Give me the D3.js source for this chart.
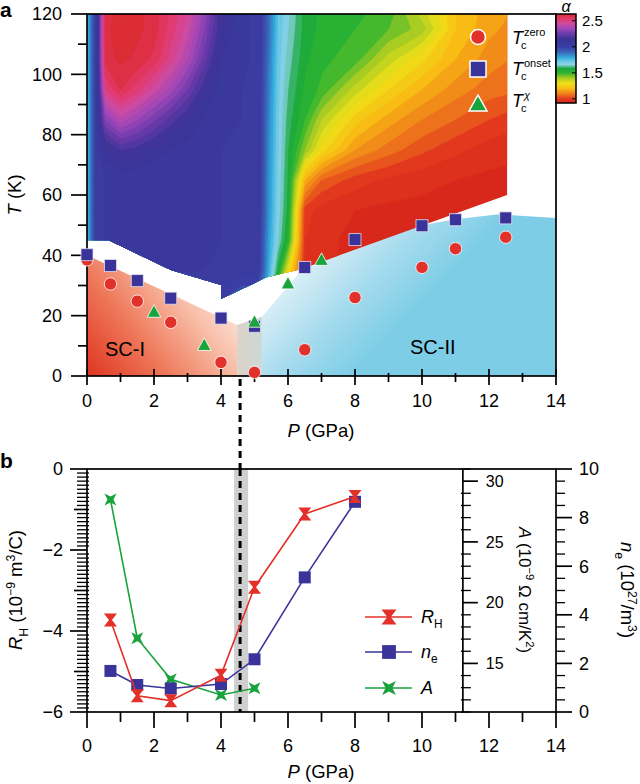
<!DOCTYPE html>
<html>
<head>
<meta charset="utf-8">
<script src="https://cdn.jsdelivr.net/npm/d3@7"></script>
<style>
  body { margin: 0; background: #fff; }
</style>
</head>
<body>
<script>
// ---- data: alpha map (rows = T ascending, columns = P) ----
const pCols = [0, 0.3, 0.55, 1, 1.5, 2, 2.5, 3, 3.5, 4, 4.6, 5.1, 5.4, 5.7, 6.0, 6.5, 7, 8, 9, 10, 11, 12, 12.6];
const tRows = [25, 35, 45, 55, 65, 75, 85, 95, 105, 115, 120];
const alphaGrid = [
  [1.75, 2.05, 2.05, 2.05, 2.05, 2.05, 2.05, 2.05, 2.05, 1.98, 1.92, 1.92, 1.70, 1.40, 1.12, 0.98, 0.95, 0.93, 0.93, 0.93, 0.93, 0.93, 0.93],
  [1.75, 2.05, 2.06, 2.06, 2.06, 2.06, 2.06, 2.06, 2.06, 2.05, 2.04, 2.03, 1.80, 1.56, 1.30, 0.98, 0.95, 0.93, 0.93, 0.93, 0.93, 0.93, 0.93],
  [1.75, 2.05, 2.06, 2.06, 2.06, 2.06, 2.06, 2.06, 2.06, 2.06, 2.05, 2.04, 1.82, 1.66, 1.52, 0.98, 0.95, 0.93, 0.93, 0.93, 0.93, 0.93, 0.93],
  [1.75, 2.05, 2.06, 2.06, 2.06, 2.06, 2.06, 2.06, 2.06, 2.06, 2.05, 2.05, 1.84, 1.68, 1.56, 1.00, 0.96, 0.94, 0.93, 0.93, 0.93, 0.93, 0.93],
  [1.75, 2.05, 2.06, 2.07, 2.07, 2.07, 2.07, 2.07, 2.06, 2.06, 2.05, 2.05, 1.84, 1.69, 1.57, 1.18, 1.06, 1.00, 0.97, 0.95, 0.94, 0.93, 0.93],
  [1.75, 2.05, 2.12, 2.18, 2.16, 2.12, 2.10, 2.08, 2.07, 2.06, 2.05, 2.05, 1.85, 1.70, 1.58, 1.42, 1.28, 1.14, 1.08, 1.03, 0.99, 0.96, 0.95],
  [1.75, 2.05, 2.30, 2.40, 2.34, 2.27, 2.20, 2.14, 2.10, 2.07, 2.06, 2.05, 1.86, 1.70, 1.60, 1.50, 1.38, 1.24, 1.16, 1.10, 1.06, 1.02, 1.00],
  [1.75, 2.05, 2.50, 2.58, 2.52, 2.44, 2.36, 2.26, 2.15, 2.08, 2.06, 2.05, 1.87, 1.71, 1.62, 1.53, 1.49, 1.36, 1.26, 1.18, 1.12, 1.08, 1.07],
  [1.75, 2.05, 2.60, 2.63, 2.61, 2.57, 2.48, 2.38, 2.24, 2.10, 2.07, 2.05, 1.88, 1.72, 1.64, 1.55, 1.51, 1.48, 1.36, 1.27, 1.18, 1.12, 1.10],
  [1.75, 2.05, 2.61, 2.64, 2.63, 2.60, 2.52, 2.44, 2.30, 2.14, 2.07, 2.05, 1.90, 1.73, 1.66, 1.56, 1.53, 1.50, 1.46, 1.40, 1.22, 1.15, 1.13],
  [1.75, 2.05, 2.60, 2.63, 2.63, 2.60, 2.53, 2.46, 2.32, 2.15, 2.07, 2.05, 1.90, 1.73, 1.67, 1.56, 1.53, 1.51, 1.48, 1.36, 1.22, 1.16, 1.14]
];
// outline of the measured map and of the SC domes, as [P, T]
const mapEdge = [[0, 120], [12.54, 120], [12.54, 60], [6.4, 35.5], [5.36, 32.7], [4, 25.5], [4, 30.2], [2.5, 35.1], [0.65, 45], [0, 45]];
const sc1Edge = [[0, 0], [0, 40], [4.48, 16.9], [4.48, 0]];
const gapEdge = [[4.48, 0], [4.48, 16.9], [5.22, 19.6], [5.22, 0]];
const sc2Edge = [[5.22, 0], [5.22, 19.6], [6.4, 35], [8, 43], [10, 50], [11, 52], [12.3, 53.6], [14, 52.4], [14, 0]];

// colour bar
const alphaStops = [0.92, 1.0, 1.1, 1.2, 1.3, 1.4, 1.5, 1.58, 1.66, 1.72, 1.8, 1.9, 2.0, 2.15, 2.25, 2.35, 2.45, 2.53, 2.63];
const colorStops = ["#d8281c", "#e2391e", "#f0801a", "#f8bc14", "#f0e018", "#a8cc22", "#2cb430", "#1aa83c", "#8cd4e6", "#6cc8e6", "#30a8dc", "#3b64b8", "#3a3ea4", "#3c3396", "#6a3aaa", "#a048b8", "#d04aa0", "#e23a6e", "#dc2c34"];
const alphaTicks = [1, 1.5, 2, 2.5];

// Tc points
const tcZeroP = [0, 0.7, 1.5, 2.5, 4, 5, 6.5, 8, 10, 11, 12.5];
const tcZeroT = [38.5, 30.5, 24.8, 17.8, 4.5, 1.2, 8.7, 26, 36, 42.2, 46];
const tcOnsetP = [0, 0.7, 1.5, 2.5, 4, 5, 6.5, 8, 10, 11, 12.5];
const tcOnsetT = [40.2, 36.6, 31.6, 25.8, 19.2, 16.5, 36, 45.2, 49.8, 51.8, 52.4];
const tcChiP = [2, 3.5, 5, 6, 7];
const tcChiT = [21.3, 10.3, 18, 30.7, 38.5];

// panel b
const pB = [0.7, 1.5, 2.5, 4, 5, 6.5, 8];
const rhVals = [-3.73, -5.6, -5.72, -5.09, -2.92, -1.11, -0.68];
const neVals = [1.69, 1.11, 0.97, 1.15, 2.17, 5.54, 8.65];
const pA = [0.7, 1.5, 2.5, 4, 5];
const aVals = [28.5, 17.07, 13.69, 12.4, 12.95];
const pBoundary = 4.57;
const pBand = [4.39, 4.81];
const pAxisA = 11.22;

const font = '"Liberation Sans", Arial, Helvetica, sans-serif';
const red = "#e2302a", blue = "#3a3399", green = "#19a33c";

const svg = d3.select("body").append("svg")
    .attr("width", 640).attr("height", 784)
    .style("font-family", font);

const x = d3.scaleLinear().domain([0, 14]).range([87, 556]);
const yT = d3.scaleLinear().domain([0, 120]).range([376, 14]);
const yR = d3.scaleLinear().domain([-6, 0]).range([712, 469]);
const yA = d3.scaleLinear().domain([11, 31]).range([712, 469]);
const yN = d3.scaleLinear().domain([0, 10]).range([712, 469]);
const yC = d3.scaleLinear().domain([0.92, 2.63]).range([103, 14]);
const color = d3.scaleLinear().domain(alphaStops).range(colorStops).clamp(true);

const defs = svg.append("defs");
const edgePath = d3.line().x(d => x(d[0])).y(d => yT(d[1]));

// rich text with sub/superscripts
function rich(sel, parts, size) {
    let off = 0;
    parts.forEach(p => {
        const target = p.sup ? -0.4 * size : p.sub ? 0.3 * size : 0;
        const ts = sel.append("tspan")
            .attr("dy", (target - off).toFixed(2))
            .attr("font-size", (p.sub || p.sup) ? size * 0.66 : size)
            .attr("font-style", p.it ? "italic" : null)
            .text(p.t);
        if (p.x != null) ts.attr("x", p.x);
        off = target;
    });
    return sel;
}

function grad(id, x1, y1, x2, y2, stops) {
    const g = defs.append("linearGradient").attr("id", id)
        .attr("gradientUnits", "userSpaceOnUse")
        .attr("x1", x1).attr("y1", y1).attr("x2", x2).attr("y2", y2);
    stops.forEach(s => g.append("stop").attr("offset", s[0]).attr("stop-color", s[1]));
}

// ---------------- panel a ----------------
grad("sc1", x(0), yT(0), x(3.9), yT(33), [[0, "#df3520"], [0.4, "#ef7a5c"], [0.75, "#f8c0aa"], [1, "#fde8de"]]);
grad("sc2", x(6), yT(36), x(8.6), yT(8), [[0, "#e4f3f8"], [0.55, "#a6dbee"], [1, "#7dcde6"]]);
grad("gap", x(4.48), 0, x(5.22), 0, [[0, "#ddd3c8"], [1, "#cbd8d6"]]);

svg.append("path").attr("d", edgePath(sc1Edge) + "Z").attr("fill", "url(#sc1)");
svg.append("path").attr("d", edgePath(sc2Edge) + "Z").attr("fill", "url(#sc2)");
svg.append("path").attr("d", edgePath(gapEdge) + "Z").attr("fill", "url(#gap)");

// contour map
defs.append("clipPath").attr("id", "mapClip")
    .append("path").attr("d", edgePath(mapEdge) + "Z");

const pIdx = d3.scaleLinear().domain(pCols.map((d, i) => i + 0.5)).range(pCols).clamp(true);
const tIdx = d3.scaleLinear().domain(tRows.map((d, i) => i + 0.5)).range(tRows).clamp(true);
const gridPath = d3.geoPath(d3.geoTransform({
    point(px, py) { this.stream.point(x(pIdx(px)), yT(tIdx(py))); }
}));

const thresholds = d3.range(0.90, 2.68, 0.04);
const contours = d3.contours()
    .size([pCols.length, tRows.length])
    .thresholds(thresholds)(alphaGrid.flat());

svg.append("g").attr("clip-path", "url(#mapClip)")
    .selectAll("path").data(contours).join("path")
    .attr("d", gridPath)
    .attr("fill", d => color(d.value + 0.02))
    .attr("stroke", d => color(d.value + 0.02))
    .attr("stroke-width", 0.6);

// frame + ticks
const axA = svg.append("g").attr("stroke", "#000").attr("stroke-width", 1.7);
axA.append("rect").attr("x", x(0)).attr("y", yT(120))
    .attr("width", x(14) - x(0)).attr("height", yT(0) - yT(120)).attr("fill", "none");
axA.selectAll(".ty").data(d3.range(0, 121, 10)).join("line")
    .attr("x1", d => x(0) - (d % 20 ? 9 : 16)).attr("x2", x(0))
    .attr("y1", d => yT(d)).attr("y2", d => yT(d));
axA.selectAll(".tx").data(d3.range(0, 15)).join("line")
    .attr("x1", d => x(d)).attr("x2", d => x(d))
    .attr("y1", d => yT(0) - (d % 2 ? 3 : 7)).attr("y2", d => yT(0) + (d % 2 ? 6 : 9));

svg.append("g").selectAll("text").data(d3.range(0, 121, 20)).join("text")
    .attr("x", x(0) - 25).attr("y", d => yT(d)).attr("dy", "0.36em")
    .attr("text-anchor", "end").attr("font-size", 18).text(d => d);
svg.append("g").selectAll("text").data(d3.range(0, 15, 2)).join("text")
    .attr("x", d => x(d)).attr("y", yT(0) + 31)
    .attr("text-anchor", "middle").attr("font-size", 18).text(d => d);

rich(svg.append("text").attr("x", 321).attr("y", 437).attr("text-anchor", "middle"),
    [{ t: "P", it: true }, { t: " (GPa)" }], 18.5);
rich(svg.append("text").attr("transform", "translate(21,195) rotate(-90)").attr("text-anchor", "middle"),
    [{ t: "T", it: true }, { t: " (K)" }], 18.5);

svg.append("text").attr("x", 105).attr("y", 356).attr("font-size", 20).text("SC-I");
svg.append("text").attr("x", 410).attr("y", 354).attr("font-size", 20).text("SC-II");
svg.append("text").attr("x", 0).attr("y", 17).attr("font-size", 21).attr("font-weight", "bold").text("a");

// boundary line
svg.append("line")
    .attr("x1", x(pBoundary)).attr("x2", x(pBoundary)).attr("y1", 379).attr("y2", yR(-6))
    .attr("stroke", "#000").attr("stroke-width", 3).attr("stroke-dasharray", "7,5");

// Tc markers
svg.append("g").selectAll("circle").data(tcZeroP).join("circle")
    .attr("cx", d => x(d)).attr("cy", (d, i) => yT(tcZeroT[i])).attr("r", 6.2)
    .attr("fill", red).attr("stroke", "#fff").attr("stroke-width", 0.8);
svg.append("g").selectAll("rect").data(tcOnsetP).join("rect")
    .attr("x", d => x(d) - 6).attr("y", (d, i) => yT(tcOnsetT[i]) - 6)
    .attr("width", 12).attr("height", 12)
    .attr("fill", blue).attr("stroke", "#dde").attr("stroke-width", 0.8);
svg.append("g").selectAll("path").data(tcChiP).join("path")
    .attr("transform", (d, i) => `translate(${x(d)},${yT(tcChiT[i])})`)
    .attr("d", "M0,-7L6.8,5.5L-6.8,5.5Z")
    .attr("fill", green).attr("stroke", "#fff").attr("stroke-width", 0.8);

// legend (panel a)
const legA = svg.append("g").attr("transform", "translate(478,0)");
legA.append("circle").attr("cy", 37).attr("r", 7.5).attr("fill", red).attr("stroke", "#fff").attr("stroke-width", 1.5);
legA.append("rect").attr("x", -8).attr("y", 61).attr("width", 16).attr("height", 16)
    .attr("fill", blue).attr("stroke", "#fff").attr("stroke-width", 1.5);
legA.append("path").attr("transform", "translate(0,104)").attr("d", "M0,-9L9,7L-9,7Z")
    .attr("fill", green).attr("stroke", "#fff").attr("stroke-width", 1.5);
[["zero", 44], ["onset", 75], ["χ", 107]].forEach(([s, by]) => {
    const t = legA.append("text").attr("x", 34).attr("y", by);
    t.append("tspan").attr("font-size", 18).attr("font-style", "italic").text("T");
    t.append("tspan").attr("x", 43).attr("dy", 5).attr("font-size", 11).text("c");
    t.append("tspan").attr("x", 46).attr("dy", -13).attr("font-size", 11)
        .attr("font-style", s === "χ" ? "italic" : null).text(s);
});

// colour bar
const cbar = defs.append("linearGradient").attr("id", "cbar")
    .attr("x1", 0).attr("y1", 1).attr("x2", 0).attr("y2", 0);
alphaStops.forEach((a, i) => cbar.append("stop")
    .attr("offset", (a - 0.92) / (2.63 - 0.92)).attr("stop-color", colorStops[i]));
svg.append("rect").attr("x", 556).attr("y", yC(2.63)).attr("width", 20)
    .attr("height", yC(0.92) - yC(2.63)).attr("fill", "url(#cbar)")
    .attr("stroke", "#000").attr("stroke-width", 1.5);
svg.append("g").selectAll("line").data(alphaTicks).join("line")
    .attr("x1", 572).attr("x2", 576).attr("y1", d => yC(d)).attr("y2", d => yC(d))
    .attr("stroke", "#000").attr("stroke-width", 1);
svg.append("g").selectAll("text").data(alphaTicks).join("text")
    .attr("x", 582).attr("y", d => yC(d)).attr("dy", "0.36em").attr("font-size", 15).text(d => d);
svg.append("text").attr("x", 566).attr("y", 12).attr("text-anchor", "middle")
    .attr("font-size", 16).attr("font-style", "italic").text("α");

// ---------------- panel b ----------------
svg.append("rect").attr("x", x(pBand[0])).attr("y", yR(0))
    .attr("width", x(pBand[1]) - x(pBand[0])).attr("height", yR(-6) - yR(0)).attr("fill", "#cfcfcf");
svg.append("line")
    .attr("x1", x(pBoundary)).attr("x2", x(pBoundary)).attr("y1", yR(0)).attr("y2", yR(-6))
    .attr("stroke", "#000").attr("stroke-width", 3).attr("stroke-dasharray", "7,5");

const axB = svg.append("g").attr("stroke", "#000").attr("stroke-width", 1.7);
axB.append("rect").attr("x", x(0)).attr("y", yR(0))
    .attr("width", x(14) - x(0)).attr("height", yR(-6) - yR(0)).attr("fill", "none");
axB.append("line").attr("x1", x(pAxisA)).attr("x2", x(pAxisA)).attr("y1", yR(0)).attr("y2", yR(-6));
// RH ticks every 0.1
axB.selectAll(".tr").data(d3.range(-60, 1)).join("line")
    .attr("x1", d => x(0) - (d % 20 === 0 ? 17 : d % 10 === 0 ? 13 : 10))
    .attr("x2", d => x(0) + (d % 20 === 0 ? 0 : 2))
    .attr("y1", d => yR(d / 10)).attr("y2", d => yR(d / 10))
    .attr("stroke-width", d => d % 10 === 0 ? 1.7 : 1.3);
axB.selectAll(".txb").data(d3.range(0, 15)).join("line")
    .attr("x1", d => x(d)).attr("x2", d => x(d))
    .attr("y1", yR(-6)).attr("y2", d => yR(-6) + (d % 2 ? 10 : 16));
axB.selectAll(".ta").data(d3.range(11, 32)).join("line")
    .attr("x1", d => x(pAxisA) - (d % 5 ? 2 : 0)).attr("x2", d => x(pAxisA) + (d % 5 ? 8 : 15))
    .attr("y1", d => yA(d)).attr("y2", d => yA(d))
    .attr("stroke-width", d => d % 5 ? 1.3 : 1.7);
axB.selectAll(".tn").data(d3.range(0, 21)).join("line")
    .attr("x1", x(14)).attr("x2", d => x(14) + (d % 4 ? 9 : 16))
    .attr("y1", d => yN(d / 2)).attr("y2", d => yN(d / 2))
    .attr("stroke-width", d => d % 4 ? 1.3 : 1.7);

svg.append("g").selectAll("text").data(d3.range(-6, 1, 2)).join("text")
    .attr("x", x(0) - 24).attr("y", d => yR(d)).attr("dy", "0.36em")
    .attr("text-anchor", "end").attr("font-size", 18).text(d => d === 0 ? "0" : "\u2212" + Math.abs(d));
svg.append("g").selectAll("text").data(d3.range(0, 15, 2)).join("text")
    .attr("x", d => x(d)).attr("y", 752)
    .attr("text-anchor", "middle").attr("font-size", 18).text(d => d);
svg.append("g").selectAll("text").data([15, 20, 25, 30]).join("text")
    .attr("x", x(pAxisA) + 23).attr("y", d => yA(d)).attr("dy", "0.36em")
    .attr("font-size", 16).text(d => d);
svg.append("g").selectAll("text").data(d3.range(0, 11, 2)).join("text")
    .attr("x", x(14) + 23).attr("y", d => yN(d)).attr("dy", "0.36em")
    .attr("font-size", 18).text(d => d);

rich(svg.append("text").attr("x", 321).attr("y", 778).attr("text-anchor", "middle"),
    [{ t: "P", it: true }, { t: " (GPa)" }], 18.5);
rich(svg.append("text").attr("transform", "translate(22,590) rotate(-90)").attr("text-anchor", "middle"),
    [{ t: "R", it: true }, { t: "H", sub: true }, { t: " (10" }, { t: "\u22129", sup: true }, { t: " m" }, { t: "3", sup: true }, { t: "/C)" }], 18.5);
rich(svg.append("text").attr("transform", "translate(519,590) rotate(90)").attr("text-anchor", "middle"),
    [{ t: "A", it: true }, { t: " (10" }, { t: "\u22129", sup: true }, { t: " \u03a9 cm/K" }, { t: "2", sup: true }, { t: ")" }], 17);
rich(svg.append("text").attr("transform", "translate(621,590) rotate(90)").attr("text-anchor", "middle"),
    [{ t: "n", it: true }, { t: "e", sub: true }, { t: " (10" }, { t: "27", sup: true }, { t: "/m" }, { t: "3", sup: true }, { t: ")" }], 18.5);
svg.append("text").attr("x", 0).attr("y", 468).attr("font-size", 21).attr("font-weight", "bold").text("b");

// series
const hourglass = "M-6.5,-6.5H6.5L1.5,0L6.5,6.5H-6.5L-1.5,0Z";
const star4 = "M-6,-6L0,-3L6,-6L3,0L6,6L0,3L-6,6L-3,0Z";
const sq = "M-6,-6H6V6H-6Z";

function series(ps, vs, sy, col, shape) {
    const g = svg.append("g");
    g.append("path")
        .attr("d", d3.line().x((d, i) => x(ps[i])).y(d => sy(d))(vs))
        .attr("fill", "none").attr("stroke", col).attr("stroke-width", 1.6);
    g.selectAll("path.m").data(vs).join("path").attr("class", "m")
        .attr("transform", (d, i) => `translate(${x(ps[i])},${sy(d)})`)
        .attr("d", shape).attr("fill", col);
}
series(pA, aVals, yA, green, star4);
series(pB, neVals, yN, blue, sq);
series(pB, rhVals, yR, red, hourglass);

// legend (panel b)
const legB = [
    { col: red, shape: hourglass, y: 617, parts: [{ t: "R", it: true }, { t: "H", sub: true }] },
    { col: blue, shape: sq, y: 652, parts: [{ t: "n", it: true }, { t: "e", sub: true }] },
    { col: green, shape: star4, y: 688, parts: [{ t: "A", it: true }] }
];
legB.forEach(l => {
    svg.append("line").attr("x1", 365).attr("x2", 412).attr("y1", l.y).attr("y2", l.y)
        .attr("stroke", l.col).attr("stroke-width", 1.6);
    svg.append("path").attr("transform", `translate(389,${l.y}) scale(1.15)`)
        .attr("d", l.shape).attr("fill", l.col);
    rich(svg.append("text").attr("x", 421).attr("y", l.y + 6), l.parts, 18);
});
</script>
</body>
</html>
